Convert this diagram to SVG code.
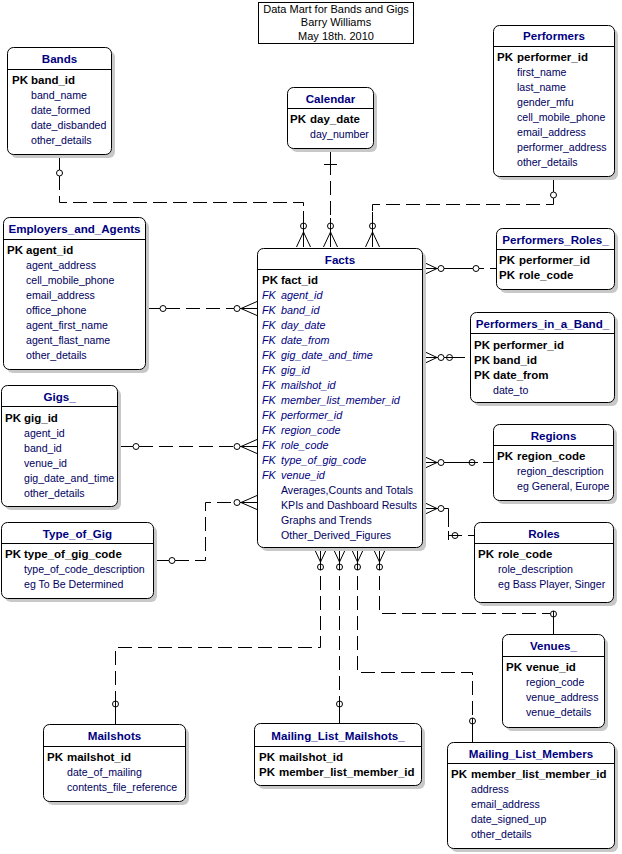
<svg xmlns="http://www.w3.org/2000/svg" width="622" height="854" viewBox="0 0 622 854">
<style>
text{font-family:"Liberation Sans",Arial,sans-serif}
.sh{fill:#c8c8c8;stroke:none}
.box{fill:#fff;stroke:#000;stroke-width:1}
.sep{stroke:#000;stroke-width:1}
.t{font-size:11.6px;font-weight:bold;fill:#000080;text-anchor:middle}
.pk{font-size:11.5px;font-weight:bold;fill:#000}
.a{font-size:10.6px;fill:#000060}
.fk{font-size:10.8px;font-style:italic;fill:#000080}
.hd{font-size:11px;fill:#000;text-anchor:middle}
.c{fill:none;stroke:#000;stroke-width:1}
.d{fill:none;stroke:#000;stroke-width:1;stroke-dasharray:14,6}
</style>
<rect width="622" height="854" fill="#fff"/>

<g id="header">
<rect x="258.5" y="2.5" width="155" height="41" fill="#fff" stroke="#000"/>
<text class="hd" x="336" y="12.5">Data Mart for Bands and Gigs</text>
<text class="hd" x="336" y="26">Barry Williams</text>
<text class="hd" x="336" y="39.5">May 18th. 2010</text>
</g>

<g id="connectors">
<!-- Bands -> Facts -->
<path class="c" d="M59.5,154 V170"/>
<path class="d" d="M59.5,176 V202.5 H303.5 V223"/>
<circle class="c" cx="59.5" cy="173" r="3"/>
<path class="c" d="M303.5,211 V247 M296.5,247 L303.5,232 L310.5,247"/>
<circle class="c" cx="303.5" cy="226" r="3"/>
<!-- Calendar -> Facts -->
<path class="c" d="M330.5,148 V175 M324,164.5 H337"/>
<path class="d" d="M330.5,181 V223"/>
<path class="c" d="M330.5,218 V247 M323.5,247 L330.5,232 L337.5,247"/>
<circle class="c" cx="330.5" cy="226" r="3"/>
<!-- Performers -> Facts -->
<path class="c" d="M553.5,176 V192"/>
<path class="d" d="M553.5,198 V204.5 H372.5 V223"/>
<circle class="c" cx="553.5" cy="195" r="3"/>
<path class="c" d="M372.5,212 V247 M365.5,247 L372.5,232 L379.5,247"/>
<circle class="c" cx="372.5" cy="226" r="3"/>
<!-- Employers -> Facts -->
<path class="c" d="M145,308.5 H160"/>
<circle class="c" cx="163" cy="308.5" r="3"/>
<path class="d" d="M166,308.5 H234"/>
<circle class="c" cx="237" cy="308.5" r="3"/>
<path class="c" d="M240,308.5 H257 M257,301.5 L241,308.5 L257,315.5"/>
<!-- Gigs -> Facts -->
<path class="c" d="M117,446.5 H133"/>
<circle class="c" cx="136" cy="446.5" r="3"/>
<path class="d" d="M139,446.5 H234"/>
<circle class="c" cx="237" cy="446.5" r="3"/>
<path class="c" d="M240,446.5 H257 M257,439.5 L241,446.5 L257,453.5"/>
<!-- Type_of_Gig -> Facts -->
<path class="c" d="M153,560.5 H169"/>
<circle class="c" cx="172" cy="560.5" r="3"/>
<path class="d" d="M175,560.5 H205.5 V502.5 H234"/>
<circle class="c" cx="237" cy="502.5" r="3"/>
<path class="c" d="M240,502.5 H257 M257,495.5 L241,502.5 L257,509.5"/>
<!-- Facts -> Performers_Roles_ -->
<path class="c" d="M422,268.5 H438 M422,261.5 L437,268.5 L422,275.5"/>
<circle class="c" cx="441" cy="268.5" r="3"/>
<path class="c" d="M444,268.5 H473 M479,268.5 H484 M490,268.5 H496"/>
<circle class="c" cx="476" cy="268.5" r="3"/>
<!-- Facts -> Performers_in_a_Band_ -->
<path class="c" d="M422,357.5 H438 M422,350.5 L437,357.5 L422,364.5"/>
<circle class="c" cx="441" cy="357.5" r="3"/>
<path class="c" d="M444,357.5 H465"/>
<circle class="c" cx="449.5" cy="357.5" r="3"/>
<!-- Facts -> Regions -->
<path class="c" d="M422,462.5 H438 M422,455.5 L437,462.5 L422,469.5"/>
<circle class="c" cx="441" cy="462.5" r="3"/>
<path class="c" d="M444,462.5 H478 M483,462.5 H493"/>
<circle class="c" cx="472" cy="462.5" r="3"/>
<!-- Facts -> Roles -->
<path class="c" d="M422,508.5 H438 M422,501.5 L437,508.5 L422,515.5"/>
<circle class="c" cx="441" cy="508.5" r="3"/>
<path class="c" d="M444,508.5 H448.5 V527 M448.5,531 V540 M448.5,535.5 H462 M468,535.5 H474"/>
<circle class="c" cx="455" cy="535.5" r="3"/>
<!-- Facts -> Mailshots -->
<path class="c" d="M320.5,547 V570 M313.5,547 L320.5,562 L327.5,547"/>
<circle class="c" cx="320.5" cy="567" r="3"/>
<path class="d" d="M320.5,576 V647.5 H115.5 V701"/>
<circle class="c" cx="115.5" cy="704" r="3"/>
<path class="c" d="M115.5,701 V724"/>
<!-- Facts -> Mailing_List_Mailshots_ -->
<path class="c" d="M339.5,547 V570 M332.5,547 L339.5,562 L346.5,547"/>
<circle class="c" cx="339.5" cy="567" r="3"/>
<path class="d" d="M339.5,576 V701"/>
<circle class="c" cx="339.5" cy="704" r="3"/>
<path class="c" d="M339.5,701 V723"/>
<!-- Facts -> Mailing_List_Members -->
<path class="c" d="M357.5,547 V570 M350.5,547 L357.5,562 L364.5,547"/>
<circle class="c" cx="357.5" cy="567" r="3"/>
<path class="d" d="M357.5,576 V672.5 H472.5 V718"/>
<circle class="c" cx="472.5" cy="721" r="3"/>
<path class="c" d="M472.5,718 V742"/>
<!-- Facts -> Venues_ -->
<path class="c" d="M379.5,547 V570 M372.5,547 L379.5,562 L386.5,547"/>
<circle class="c" cx="379.5" cy="567" r="3"/>
<path class="d" d="M379.5,576 V613.5 H550"/>
<circle class="c" cx="553.5" cy="614" r="3"/>
<path class="c" d="M553.5,611 V634"/>
</g>

<g id="Bands">
<rect class="sh" x="11" y="51" width="104" height="107" rx="6"/>
<rect class="box" x="7.5" y="47.5" width="104" height="107" rx="6"/>
<line class="sep" x1="7.5" y1="69.5" x2="111.5" y2="69.5"/>
<text class="t" x="59.5" y="63">Bands</text>
<text class="pk" x="12" y="84">PK</text><text class="pk" x="31" y="84">band_id</text>
<text class="a" x="31" y="99">band_name</text>
<text class="a" x="31" y="114">date_formed</text>
<text class="a" x="31" y="129">date_disbanded</text>
<text class="a" x="31" y="144">other_details</text>
</g>

<g id="Calendar">
<rect class="sh" x="291" y="91" width="86" height="61" rx="6"/>
<rect class="box" x="287.5" y="87.5" width="86" height="61" rx="6"/>
<line class="sep" x1="287.5" y1="108.5" x2="373.5" y2="108.5"/>
<text class="t" x="330.5" y="102.5">Calendar</text>
<text class="pk" x="290" y="123">PK</text><text class="pk" x="310" y="123">day_date</text>
<text class="a" x="310" y="138">day_number</text>
</g>

<g id="Performers">
<rect class="sh" x="497" y="29" width="121" height="151" rx="6"/>
<rect class="box" x="493.5" y="25.5" width="121" height="151" rx="6"/>
<line class="sep" x1="493.5" y1="46.5" x2="614.5" y2="46.5"/>
<text class="t" x="554" y="40">Performers</text>
<text class="pk" x="497" y="61">PK</text><text class="pk" x="517" y="61">performer_id</text>
<text class="a" x="517" y="76">first_name</text>
<text class="a" x="517" y="91">last_name</text>
<text class="a" x="517" y="106">gender_mfu</text>
<text class="a" x="517" y="121">cell_mobile_phone</text>
<text class="a" x="517" y="136">email_address</text>
<text class="a" x="517" y="151">performer_address</text>
<text class="a" x="517" y="166">other_details</text>
</g>

<g id="Employers_and_Agents">
<rect class="sh" x="7" y="221" width="142" height="152" rx="6"/>
<rect class="box" x="3.5" y="217.5" width="142" height="152" rx="6"/>
<line class="sep" x1="3.5" y1="239.5" x2="145.5" y2="239.5"/>
<text class="t" x="74.5" y="233">Employers_and_Agents</text>
<text class="pk" x="7" y="254">PK</text><text class="pk" x="26" y="254">agent_id</text>
<text class="a" x="26" y="269">agent_address</text>
<text class="a" x="26" y="284">cell_mobile_phone</text>
<text class="a" x="26" y="299">email_address</text>
<text class="a" x="26" y="314">office_phone</text>
<text class="a" x="26" y="329">agent_first_name</text>
<text class="a" x="26" y="344">agent_flast_name</text>
<text class="a" x="26" y="359">other_details</text>
</g>

<g id="Performers_Roles_">
<rect class="sh" x="500" y="232" width="118" height="61" rx="6"/>
<rect class="box" x="496.5" y="228.5" width="118" height="61" rx="6"/>
<line class="sep" x1="496.5" y1="249.5" x2="614.5" y2="249.5"/>
<text class="t" x="555.5" y="243.5">Performers_Roles_</text>
<text class="pk" x="499" y="264">PK</text><text class="pk" x="519" y="264">performer_id</text>
<text class="pk" x="499" y="279">PK</text><text class="pk" x="519" y="279">role_code</text>
</g>

<g id="Facts">
<rect class="sh" x="261" y="252" width="165" height="299" rx="6"/>
<rect class="box" x="257.5" y="248.5" width="165" height="299" rx="6"/>
<line class="sep" x1="257.5" y1="269.5" x2="422.5" y2="269.5"/>
<text class="t" x="340" y="263.5">Facts</text>
<text class="pk" x="262" y="284">PK</text><text class="pk" x="281" y="284">fact_id</text>
<text class="fk" x="262" y="299">FK</text><text class="fk" x="281" y="299">agent_id</text>
<text class="fk" x="262" y="314">FK</text><text class="fk" x="281" y="314">band_id</text>
<text class="fk" x="262" y="329">FK</text><text class="fk" x="281" y="329">day_date</text>
<text class="fk" x="262" y="344">FK</text><text class="fk" x="281" y="344">date_from</text>
<text class="fk" x="262" y="359">FK</text><text class="fk" x="281" y="359">gig_date_and_time</text>
<text class="fk" x="262" y="374">FK</text><text class="fk" x="281" y="374">gig_id</text>
<text class="fk" x="262" y="389">FK</text><text class="fk" x="281" y="389">mailshot_id</text>
<text class="fk" x="262" y="404">FK</text><text class="fk" x="281" y="404">member_list_member_id</text>
<text class="fk" x="262" y="419">FK</text><text class="fk" x="281" y="419">performer_id</text>
<text class="fk" x="262" y="434">FK</text><text class="fk" x="281" y="434">region_code</text>
<text class="fk" x="262" y="449">FK</text><text class="fk" x="281" y="449">role_code</text>
<text class="fk" x="262" y="464">FK</text><text class="fk" x="281" y="464">type_of_gig_code</text>
<text class="fk" x="262" y="479">FK</text><text class="fk" x="281" y="479">venue_id</text>
<text class="a" x="281" y="494">Averages,Counts and Totals</text>
<text class="a" x="281" y="509">KPIs and Dashboard Results</text>
<text class="a" x="281" y="524">Graphs and Trends</text>
<text class="a" x="281" y="539">Other_Derived_Figures</text>
</g>

<g id="Performers_in_a_Band_">
<rect class="sh" x="474" y="316" width="144" height="90" rx="6"/>
<rect class="box" x="470.5" y="312.5" width="144" height="90" rx="6"/>
<line class="sep" x1="470.5" y1="333.5" x2="614.5" y2="333.5"/>
<text class="t" x="542.5" y="328">Performers_in_a_Band_</text>
<text class="pk" x="474" y="349">PK</text><text class="pk" x="493" y="349">performer_id</text>
<text class="pk" x="474" y="364">PK</text><text class="pk" x="493" y="364">band_id</text>
<text class="pk" x="474" y="379">PK</text><text class="pk" x="493" y="379">date_from</text>
<text class="a" x="493" y="394">date_to</text>
</g>

<g id="Gigs_">
<rect class="sh" x="5" y="389" width="116" height="121" rx="6"/>
<rect class="box" x="1.5" y="385.5" width="116" height="121" rx="6"/>
<line class="sep" x1="1.5" y1="406.5" x2="117.5" y2="406.5"/>
<text class="t" x="59.5" y="401">Gigs_</text>
<text class="pk" x="5" y="422">PK</text><text class="pk" x="24" y="422">gig_id</text>
<text class="a" x="24" y="437">agent_id</text>
<text class="a" x="24" y="452">band_id</text>
<text class="a" x="24" y="467">venue_id</text>
<text class="a" x="24" y="482">gig_date_and_time</text>
<text class="a" x="24" y="497">other_details</text>
</g>

<g id="Regions">
<rect class="sh" x="497" y="428" width="120" height="76" rx="6"/>
<rect class="box" x="493.5" y="424.5" width="120" height="76" rx="6"/>
<line class="sep" x1="493.5" y1="445.5" x2="613.5" y2="445.5"/>
<text class="t" x="553.5" y="440">Regions</text>
<text class="pk" x="497" y="460">PK</text><text class="pk" x="517" y="460">region_code</text>
<text class="a" x="517" y="475">region_description</text>
<text class="a" x="517" y="490">eg General, Europe</text>
</g>

<g id="Type_of_Gig">
<rect class="sh" x="5" y="526" width="152" height="76" rx="6"/>
<rect class="box" x="1.5" y="522.5" width="152" height="76" rx="6"/>
<line class="sep" x1="1.5" y1="543.5" x2="153.5" y2="543.5"/>
<text class="t" x="77.5" y="537.5">Type_of_Gig</text>
<text class="pk" x="5" y="558">PK</text><text class="pk" x="24" y="558">type_of_gig_code</text>
<text class="a" x="24" y="573">type_of_code_description</text>
<text class="a" x="24" y="588">eg To Be Determined</text>
</g>

<g id="Roles">
<rect class="sh" x="478" y="526" width="139" height="80" rx="6"/>
<rect class="box" x="474.5" y="522.5" width="139" height="80" rx="6"/>
<line class="sep" x1="474.5" y1="543.5" x2="613.5" y2="543.5"/>
<text class="t" x="544" y="537.5">Roles</text>
<text class="pk" x="478" y="558">PK</text><text class="pk" x="498" y="558">role_code</text>
<text class="a" x="498" y="573">role_description</text>
<text class="a" x="498" y="588">eg Bass Player, Singer</text>
</g>

<g id="Venues_">
<rect class="sh" x="506" y="638" width="102" height="93" rx="6"/>
<rect class="box" x="502.5" y="634.5" width="102" height="93" rx="6"/>
<line class="sep" x1="502.5" y1="656.5" x2="604.5" y2="656.5"/>
<text class="t" x="553.5" y="650">Venues_</text>
<text class="pk" x="506" y="671">PK</text><text class="pk" x="526" y="671">venue_id</text>
<text class="a" x="526" y="686">region_code</text>
<text class="a" x="526" y="701">venue_address</text>
<text class="a" x="526" y="716">venue_details</text>
</g>

<g id="Mailshots">
<rect class="sh" x="47" y="728" width="142" height="77" rx="6"/>
<rect class="box" x="43.5" y="724.5" width="142" height="77" rx="6"/>
<line class="sep" x1="43.5" y1="746.5" x2="185.5" y2="746.5"/>
<text class="t" x="114.5" y="740">Mailshots</text>
<text class="pk" x="47" y="761">PK</text><text class="pk" x="67" y="761">mailshot_id</text>
<text class="a" x="67" y="776">date_of_mailing</text>
<text class="a" x="67" y="791">contents_file_reference</text>
</g>

<g id="Mailing_List_Mailshots_">
<rect class="sh" x="258" y="727" width="167" height="62" rx="6"/>
<rect class="box" x="254.5" y="723.5" width="167" height="62" rx="6"/>
<line class="sep" x1="254.5" y1="746.5" x2="421.5" y2="746.5"/>
<text class="t" x="338" y="739.5">Mailing_List_Mailshots_</text>
<text class="pk" x="259" y="761">PK</text><text class="pk" x="279" y="761">mailshot_id</text>
<text class="pk" x="259" y="776">PK</text><text class="pk" x="279" y="776">member_list_member_id</text>
</g>

<g id="Mailing_List_Members">
<rect class="sh" x="451" y="746" width="167" height="106" rx="6"/>
<rect class="box" x="447.5" y="742.5" width="167" height="106" rx="6"/>
<line class="sep" x1="447.5" y1="763.5" x2="614.5" y2="763.5"/>
<text class="t" x="531" y="757.5">Mailing_List_Members</text>
<text class="pk" x="451" y="778">PK</text><text class="pk" x="471" y="778">member_list_member_id</text>
<text class="a" x="471" y="793">address</text>
<text class="a" x="471" y="808">email_address</text>
<text class="a" x="471" y="823">date_signed_up</text>
<text class="a" x="471" y="838">other_details</text>
</g>
</svg>
